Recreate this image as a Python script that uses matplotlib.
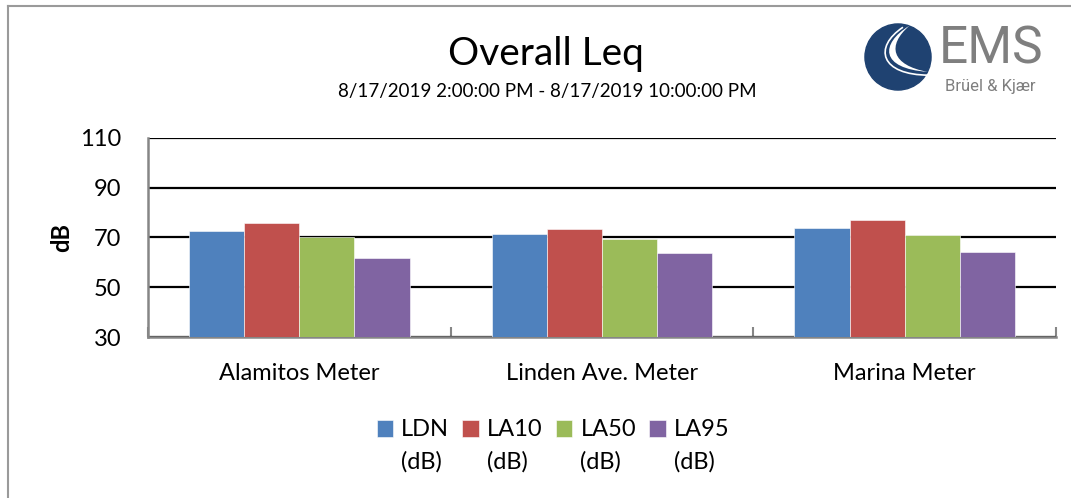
import matplotlib
matplotlib.use("Agg")
import matplotlib.pyplot as plt
import numpy as np
from matplotlib.patches import Circle, Rectangle, PathPatch
from matplotlib.path import Path

plt.rcParams['font.family'] = ['Lato', 'DejaVu Sans']

categories = ["Alamitos Meter", "Linden Ave. Meter", "Marina Meter"]
series_names = ["LDN", "LA10", "LA50", "LA95"]
ldn = [72.7, 71.6, 73.7]
la10 = [75.9, 73.6, 77.2]
la50 = [70.0, 69.2, 71.1]
la95 = [61.7, 63.6, 64.3]
series_values = [ldn, la10, la50, la95]
colors = ["#4f81bd", "#c0504d", "#9bbb59", "#8064a2"]
yticks = [30, 50, 70, 90, 110]

W, H = 1071, 498
fig = plt.figure(figsize=(W / 100, H / 100), dpi=100)

def fx(px):
    return px / W

def fy(py):
    return 1 - py / H

FS = 17

# outer border (left and top only visible)
fig.add_artist(plt.Line2D([fx(8), fx(8)], [fy(6), 0], color="#9a9a9a", lw=1.5, transform=fig.transFigure))
fig.add_artist(plt.Line2D([fx(8), 1], [fy(6), fy(6)], color="#9a9a9a", lw=1.5, transform=fig.transFigure))

ax = fig.add_axes([fx(148), fy(337), fx(1056) - fx(148), fy(138) - fy(337)])
x = np.arange(len(categories))
bw = 0.182
for i, (vals, c, name) in enumerate(zip(series_values, colors, series_names)):
    ax.bar(x + (i - 1.5) * bw, vals, width=bw, color=c, label=name, zorder=3,
           edgecolor="white", linewidth=0.4)

ax.set_xlim(-0.5, len(categories) - 0.5)
ax.set_ylim(30, 110)
ax.set_yticks(yticks)
ax.set_yticklabels([str(v) for v in yticks], fontsize=FS)
ax.yaxis.grid(True, color="black", lw=1.6, zorder=1)
ax.set_axisbelow(True)
ax.set_xticks(x)
ax.set_xticklabels(categories, fontsize=FS)
ax.set_xticks(np.arange(len(categories) + 1) - 0.5, minor=True)
ax.tick_params(axis="x", which="major", length=0, pad=19)
ax.tick_params(axis="x", which="minor", direction="in", length=7, color="#868686", width=1.5)
ax.tick_params(axis="y", which="major", length=0, pad=19)
for s in ["top", "right"]:
    ax.spines[s].set_visible(False)
for s in ["left", "bottom"]:
    ax.spines[s].set_color("#868686")
    ax.spines[s].set_linewidth(1.8)
ax.set_ylabel("dB", fontsize=FS, fontweight="bold", labelpad=5)

# titles
fig.text(fx(546), fy(54), "Overall Leq", fontsize=28, ha="center", va="center")
fig.text(fx(547), fy(92), "8/17/2019 2:00:00 PM - 8/17/2019 10:00:00 PM", fontsize=13.5, ha="center", va="center")

# logo
lax = fig.add_axes([fx(860), fy(95), fx(76), fy(19) - fy(95)])
lax.set_xlim(-1.15, 1.15)
lax.set_ylim(-1.15, 1.15)
lax.set_aspect("equal")
lax.axis("off")
lax.add_patch(Circle((0, 0), 1.0, color="#1f4271"))
sw = Path([(0.35, 0.95), (-0.55, 0.4), (-0.55, -0.35), (0.9, -0.45),
           (-0.2, -0.25), (-0.35, 0.35), (0.35, 0.95)],
          [Path.MOVETO, Path.CURVE4, Path.CURVE4, Path.CURVE4, Path.CURVE4, Path.CURVE4, Path.CURVE4])
lax.add_patch(PathPatch(sw, facecolor="white", edgecolor="none"))
sw2 = Path([(0.15, 0.9), (-0.75, 0.3), (-0.55, -0.55), (0.95, -0.55)],
           [Path.MOVETO, Path.CURVE4, Path.CURVE4, Path.CURVE4])
lax.add_patch(PathPatch(sw2, facecolor="none", edgecolor="white", lw=1.2))
fig.text(fx(939), fy(50), "EMS", fontsize=37, color="#7f7f7f", ha="left", va="center",
         family=["Roboto", "DejaVu Sans"])
fig.text(fx(945), fy(87), "Brüel & Kjær", fontsize=12, color="#7f7f7f", ha="left", va="center",
         family=["Roboto", "DejaVu Sans"])

# legend
handles, labels = ax.get_legend_handles_labels()
leg = fig.legend(handles, labels, loc="center", bbox_to_anchor=(fx(553), fy(430)), ncol=4,
                 frameon=False, fontsize=FS, handlelength=0.7, handleheight=0.7,
                 handletextpad=0.35, columnspacing=0.55)
fig.canvas.draw()
r = fig.canvas.get_renderer()
for t in leg.get_texts():
    bb = t.get_window_extent(r)
    fig.text(bb.x0 / W, fy(462), "(dB)", fontsize=FS, ha="left", va="center")

fig.savefig("out.png", dpi=100, facecolor="white")
